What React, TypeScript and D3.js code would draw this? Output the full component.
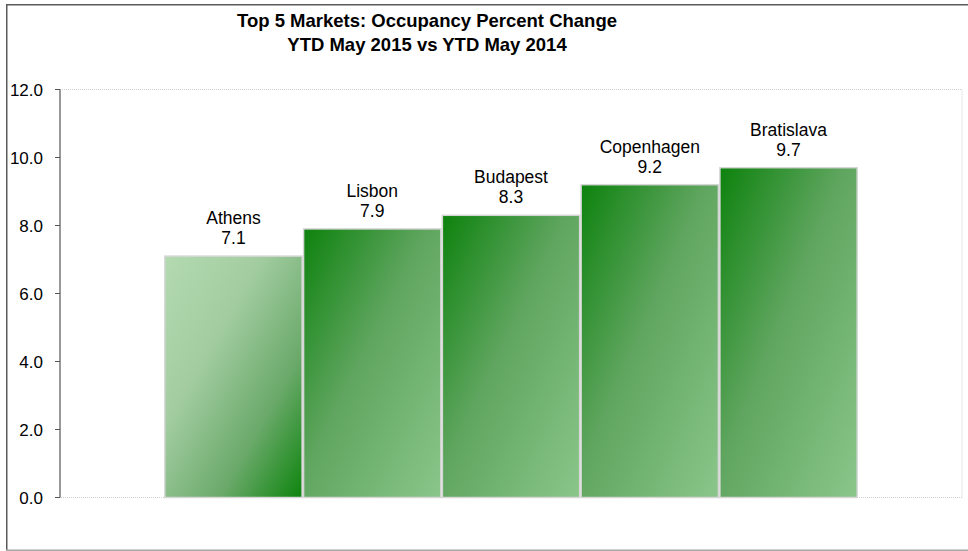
import React from "react";
import * as d3 from "d3";

const cities = ["Athens", "Lisbon", "Budapest", "Copenhagen", "Bratislava"];
const values = [7.1, 7.9, 8.3, 9.2, 9.7];
const yTicks = [0, 2, 4, 6, 8, 10, 12];
const titleLines = ["Top 5 Markets: Occupancy Percent Change", "YTD May 2015 vs YTD May 2014"];

const W = 968;
const H = 551;
const plot = { left: 60, right: 962, top: 89.5, bottom: 497.5 };
const gapWidth = 1.5;

export default function App() {
  React.useEffect(() => {
    document.body.style.margin = "0";
  }, []);

  const y = d3.scaleLinear().domain([0, 12]).range([plot.bottom, plot.top]);
  const barW = (plot.right - plot.left) / (cities.length + gapWidth);
  const x = d3
    .scaleBand<string>()
    .domain(cities)
    .range([plot.left + (gapWidth / 2) * barW, plot.right - (gapWidth / 2) * barW])
    .padding(0);
  const font = "Arial, 'Liberation Sans', sans-serif";

  return (
    <svg width={W} height={H} style={{ display: "block", background: "#fff" }}>
      <defs>
        <linearGradient id="gLight" x1="0" y1="0" x2="1" y2="1">
          <stop offset="0" stopColor="#b3dab1" />
          <stop offset="0.35" stopColor="#a3cda1" />
          <stop offset="0.7" stopColor="#6aa96a" />
          <stop offset="1" stopColor="#0d840d" />
        </linearGradient>
        <linearGradient id="gDark" x1="0" y1="0" x2="1" y2="1">
          <stop offset="0" stopColor="#0d820d" />
          <stop offset="0.45" stopColor="#5fa55f" />
          <stop offset="1" stopColor="#8ac68a" />
        </linearGradient>
      </defs>
      {/* outer frame */}
      <line x1={6.5} x2={W} y1={4.75} y2={4.75} stroke="#5a5a5a" strokeWidth={1.5} />
      <line x1={6.75} x2={6.75} y1={4} y2={550.5} stroke="#5a5a5a" strokeWidth={1.5} />
      <line x1={6} x2={W} y1={550.25} y2={550.25} stroke="#a8a8a8" strokeWidth={1.5} />

      {/* title */}
      {titleLines.map((t, i) => (
        <text
          key={i}
          x={427}
          y={27 + i * 24}
          textAnchor="middle"
          fontFamily={font}
          fontWeight="bold"
          fontSize={18.5}
        >
          {t}
        </text>
      ))}

      {/* plot area dotted border */}
      <path
        d={`M${plot.left},${plot.top}H${plot.right}V${plot.bottom}H${plot.left}`}
        fill="none"
        stroke="#cfcfcf"
        strokeDasharray="1,1"
      />

      {/* bars */}
      {cities.map((c, i) => (
        <rect
          key={c}
          x={x(c)! + 0.75}
          y={y(values[i])}
          width={x.bandwidth() - 1.5}
          height={y(0) - y(values[i])}
          fill={i === 0 ? "url(#gLight)" : "url(#gDark)"}
          stroke="#d6d6d6"
          strokeWidth={1.5}
        />
      ))}

      {/* data labels */}
      {cities.map((c, i) => {
        const cx = x(c)! + x.bandwidth() / 2;
        const top = y(values[i]);
        return (
          <g key={c} fontFamily={font} fontSize={17.5} fill="#000" textAnchor="middle">
            <text x={cx} y={top - 32}>{c}</text>
            <text x={cx} y={top - 12}>{values[i].toFixed(1)}</text>
          </g>
        );
      })}

      {/* y axis */}
      <line x1={plot.left} x2={plot.left} y1={plot.top} y2={plot.bottom} stroke="#555" strokeWidth={1.2} />
      {yTicks.map((t) => (
        <g key={t}>
          <line x1={plot.left - 5} x2={plot.left} y1={y(t)} y2={y(t)} stroke="#555" strokeWidth={1} />
          <text
            x={43}
            y={y(t) + 6}
            textAnchor="end"
            fontFamily={font}
            fontSize={17}
            fill="#000"
          >
            {t.toFixed(1)}
          </text>
        </g>
      ))}
    </svg>
  );
}
